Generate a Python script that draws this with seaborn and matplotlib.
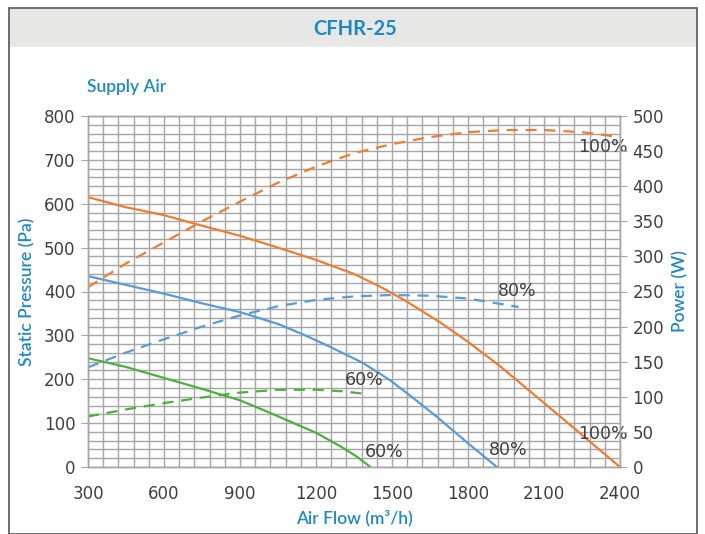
import numpy as np
import pandas as pd
import matplotlib
matplotlib.use("Agg")
import matplotlib.pyplot as plt
import seaborn as sns
from matplotlib.patches import Rectangle
from matplotlib.ticker import MultipleLocator

# pressure curves (Pa) vs air flow (m3/h)
flow_100 = [300, 450, 600, 750, 900, 1050, 1200, 1350, 1450, 1550, 1689, 1796, 1926, 2096, 2242, 2400]
pres_100 = [615, 592, 574, 550, 527, 500, 472, 440, 412, 380, 330, 287, 230, 148, 77, 0]
flow_80 = [300, 450, 600, 750, 900, 1050, 1150, 1255, 1386, 1492, 1571, 1678, 1796, 1914]
pres_80 = [435, 415, 395, 373, 353, 326, 302, 274, 237, 198, 163, 114, 56, 0]
flow_60 = [300, 450, 600, 750, 900, 1000, 1100, 1200, 1300, 1360, 1415]
pres_60 = [248, 228, 203, 178, 152, 128, 103, 78, 46, 24, 0]

# power curves (W) vs air flow
pflow_100 = [300, 450, 600, 750, 900, 1050, 1200, 1350, 1500, 1650, 1800, 1950, 2100, 2250, 2400]
power_100 = [256, 290, 320, 350, 378, 405, 428, 447, 460, 470, 477, 480, 480, 477, 470]
pflow_80 = [300, 450, 600, 750, 900, 1050, 1200, 1350, 1500, 1650, 1800, 2000]
power_80 = [142, 163, 182, 200, 216, 229, 238, 243, 245, 244, 240, 228]
pflow_60 = [300, 450, 600, 750, 900, 1050, 1200, 1300, 1400]
power_60 = [72, 82, 91, 99, 106, 110, 110, 108, 104]

orange = "#ED7D31"
blue = "#5B9BD5"
green = "#4CB03C"
label_blue = "#1E88C4"
txt = "#404040"

sns.set_style("white")
plt.rcParams["font.family"] = ["DejaVu Sans"]

fig = plt.figure(figsize=(7.05, 5.34), dpi=100)

# frame and header band
fig.patches.append(Rectangle((9/705, 0), 688/705, 1 - 8/534, transform=fig.transFigure,
                             facecolor="white", edgecolor="#555555", lw=1.2, zorder=-2))
fig.patches.append(Rectangle((10/705, 1 - 47/534), 686/705, 38/534, transform=fig.transFigure,
                             facecolor="#E7E7E6", edgecolor="none", zorder=-1))
fig.text(0.504, 0.946, "CFHR-25", ha="center", va="center", color=label_blue,
         fontsize=14.5, fontweight="bold", family="Lato")
fig.text(87/705, 0.838, "Supply Air", ha="left", va="center", color=label_blue,
         fontsize=12.5, fontweight="semibold", family="Lato")

ax = fig.add_axes([88/705, 1 - 467/534, 532/705, 351/534])
ax2 = ax.twinx()

df_p = pd.concat([
    pd.DataFrame({"flow": flow_100, "val": pres_100, "speed": "100%"}),
    pd.DataFrame({"flow": flow_80, "val": pres_80, "speed": "80%"}),
    pd.DataFrame({"flow": flow_60, "val": pres_60, "speed": "60%"}),
])
df_w = pd.concat([
    pd.DataFrame({"flow": pflow_100, "val": power_100, "speed": "100%"}),
    pd.DataFrame({"flow": pflow_80, "val": power_80, "speed": "80%"}),
    pd.DataFrame({"flow": pflow_60, "val": power_60, "speed": "60%"}),
])
pal = {"100%": orange, "80%": blue, "60%": green}

sns.lineplot(data=df_p, x="flow", y="val", hue="speed", palette=pal, ax=ax,
             legend=False, lw=1.6, sort=False, estimator=None)
sns.lineplot(data=df_w, x="flow", y="val", hue="speed", palette=pal, ax=ax2,
             legend=False, lw=1.6, sort=False, estimator=None)
for ln in ax2.get_lines():
    ln.set_dashes([5, 3.5])

ax.set_xlim(300, 2400)
ax.set_ylim(0, 800)
ax2.set_ylim(0, 500)

ax.xaxis.set_major_locator(MultipleLocator(300))
ax.xaxis.set_minor_locator(MultipleLocator(60))
ax.yaxis.set_major_locator(MultipleLocator(100))
ax.yaxis.set_minor_locator(MultipleLocator(20))
ax2.yaxis.set_major_locator(MultipleLocator(50))

ax.grid(which="both", color="#A6A6A6", lw=1.0)
ax.set_axisbelow(True)
for a in (ax, ax2):
    for s in a.spines.values():
        s.set_color("#A6A6A6")
        s.set_linewidth(1.0)

ax.tick_params(axis="both", which="major", direction="out", length=5, color="#A6A6A6",
               labelsize=12, labelcolor=txt, pad=4)
ax.tick_params(axis="x", which="major", pad=8)
ax.tick_params(axis="both", which="minor", length=0)
ax2.tick_params(axis="y", direction="out", length=5, color="#A6A6A6",
                labelsize=12, labelcolor=txt, pad=4)

lab = dict(color=label_blue, fontsize=12.5, fontweight="semibold", family="Lato")
ax.set_xlabel("Air Flow (m³/h)", labelpad=5, **lab)
ax.set_ylabel("Static Pressure (Pa)", labelpad=6, **lab)
ax2.set_ylabel("Power (W)", labelpad=6, **lab)

# curve labels
for x, y, s in [(2333, 729, "100%"), (1993, 401, "80%"), (1389, 198, "60%"),
                (1958, 39, "80%"), (1468, 34, "60%"), (2333, 75, "100%")]:
    ax.text(x, y, s, ha="center", va="center", color=txt, fontsize=12.5)

fig.savefig("out.png", dpi=100)
